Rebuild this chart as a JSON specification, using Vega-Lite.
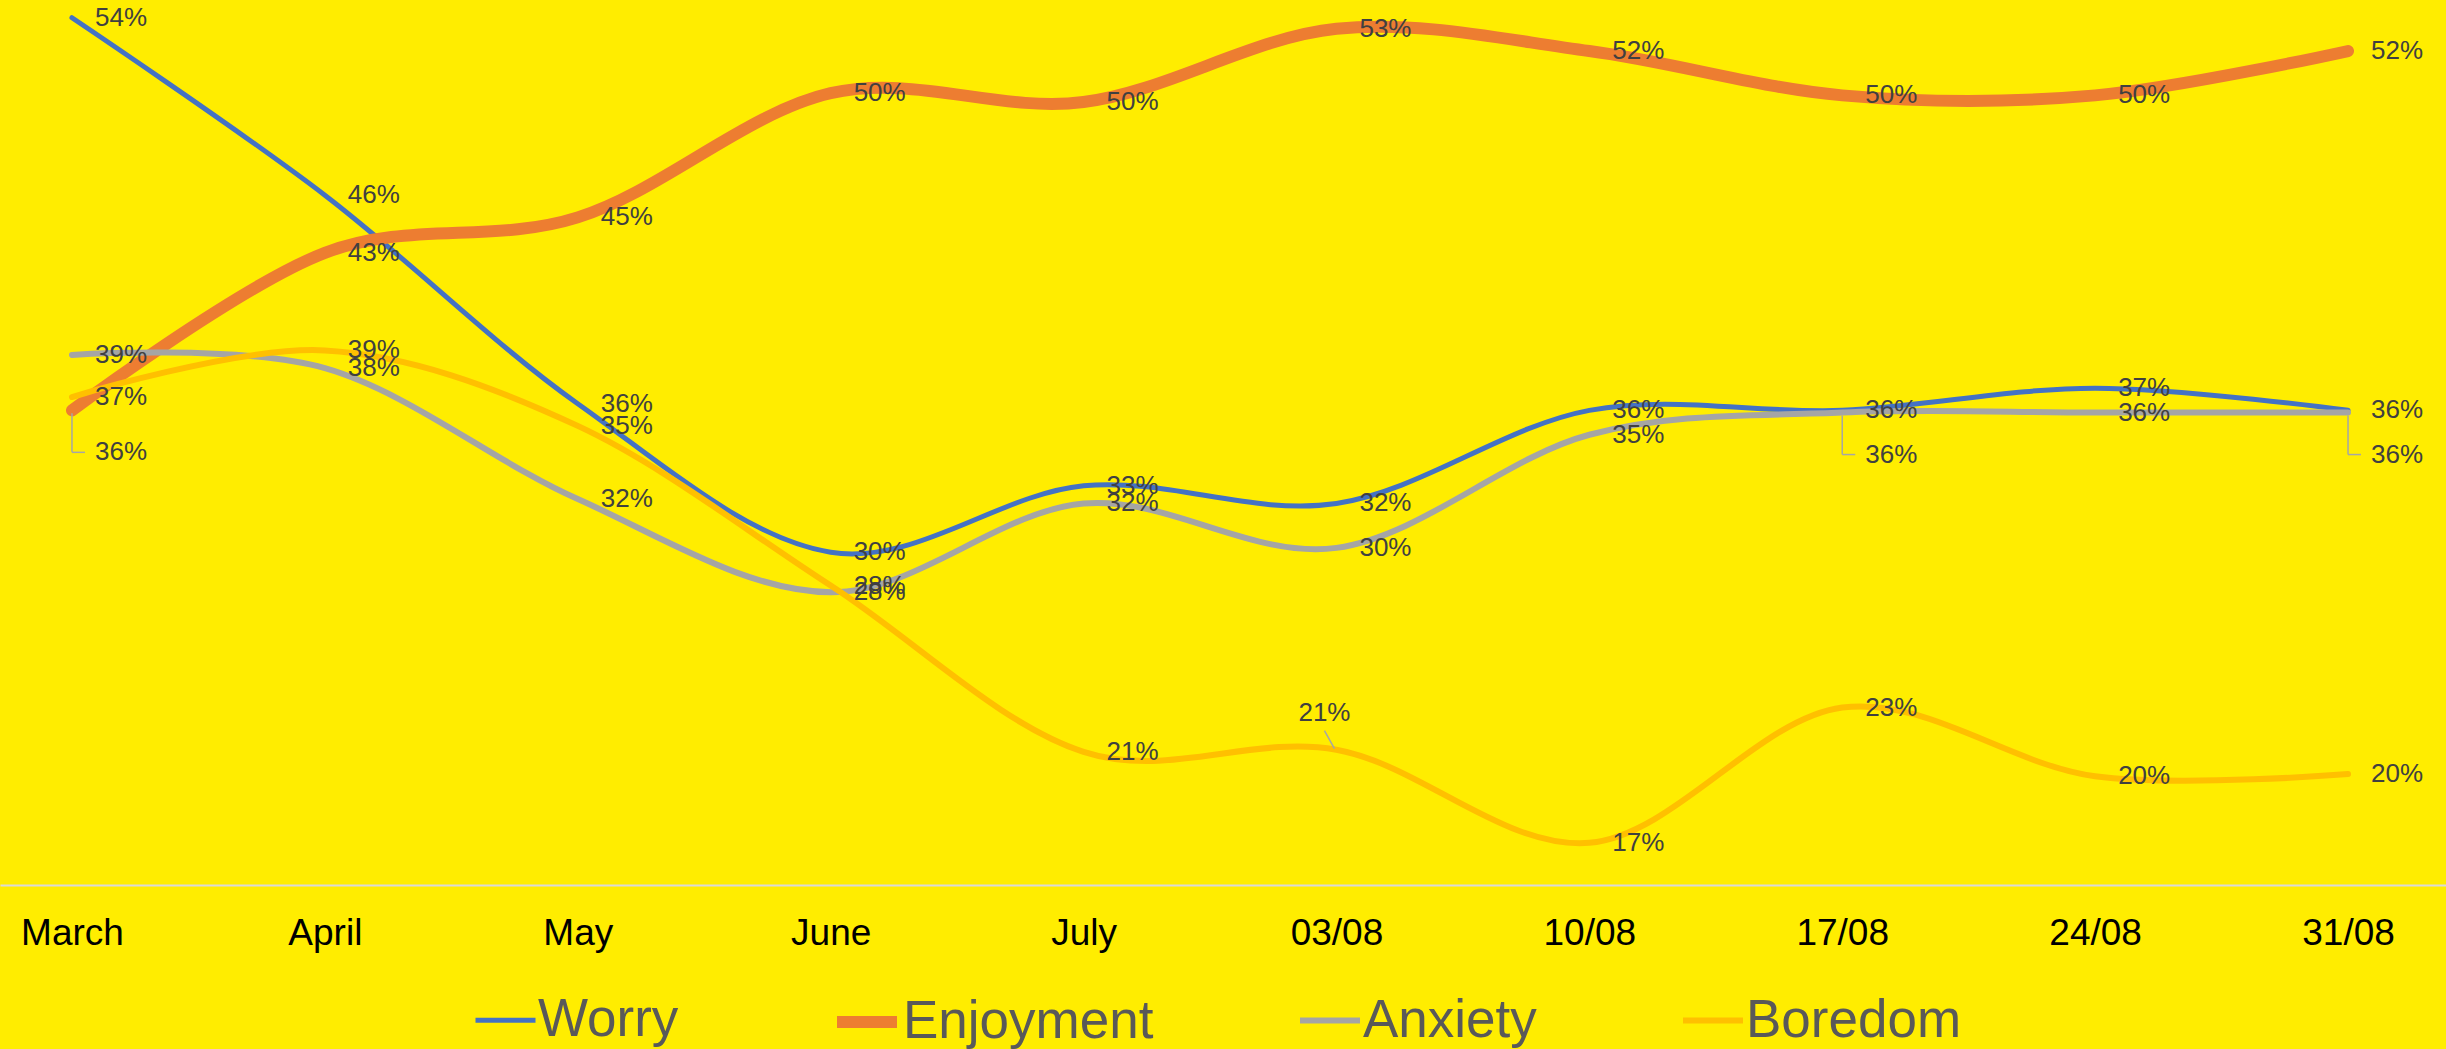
{
  "$schema": "https://vega.github.io/schema/vega-lite/v6.json",
  "width": 2446,
  "height": 885,
  "autosize": {"type": "none"},
  "padding": {"left": 0, "top": 0, "right": 0, "bottom": 164},
  "background": "#FFED00",
  "config": {
    "view": {"stroke": null},
    "font": "Liberation Sans",
    "legend": {
      "orient": "none",
      "legendX": 473,
      "legendY": 986,
      "direction": "horizontal",
      "symbolType": "stroke",
      "symbolSize": 3600,
      "labelFontSize": 53,
      "labelLimit": 500,
      "labelColor": "#595959",
      "labelFont": "Liberation Sans",
      "labelOffset": 0,
      "columnPadding": 134,
      "padding": 0,
      "title": null
    }
  },
  "data": {
    "values": [
      {"series": "Worry", "period": "March", "value": 0.538},
      {"series": "Worry", "period": "April", "value": 0.458},
      {"series": "Worry", "period": "May", "value": 0.364},
      {"series": "Worry", "period": "June", "value": 0.297},
      {"series": "Worry", "period": "July", "value": 0.327},
      {"series": "Worry", "period": "03/08", "value": 0.319},
      {"series": "Worry", "period": "10/08", "value": 0.361},
      {"series": "Worry", "period": "17/08", "value": 0.361},
      {"series": "Worry", "period": "24/08", "value": 0.371},
      {"series": "Worry", "period": "31/08", "value": 0.361},
      {"series": "Enjoyment", "period": "March", "value": 0.361},
      {"series": "Enjoyment", "period": "April", "value": 0.432},
      {"series": "Enjoyment", "period": "May", "value": 0.448},
      {"series": "Enjoyment", "period": "June", "value": 0.504},
      {"series": "Enjoyment", "period": "July", "value": 0.500},
      {"series": "Enjoyment", "period": "03/08", "value": 0.533},
      {"series": "Enjoyment", "period": "10/08", "value": 0.523},
      {"series": "Enjoyment", "period": "17/08", "value": 0.503},
      {"series": "Enjoyment", "period": "24/08", "value": 0.503},
      {"series": "Enjoyment", "period": "31/08", "value": 0.523},
      {"series": "Anxiety", "period": "March", "value": 0.386},
      {"series": "Anxiety", "period": "April", "value": 0.380},
      {"series": "Anxiety", "period": "May", "value": 0.321},
      {"series": "Anxiety", "period": "June", "value": 0.279},
      {"series": "Anxiety", "period": "July", "value": 0.319},
      {"series": "Anxiety", "period": "03/08", "value": 0.299},
      {"series": "Anxiety", "period": "10/08", "value": 0.350},
      {"series": "Anxiety", "period": "17/08", "value": 0.360},
      {"series": "Anxiety", "period": "24/08", "value": 0.360},
      {"series": "Anxiety", "period": "31/08", "value": 0.360},
      {"series": "Boredom", "period": "March", "value": 0.367},
      {"series": "Boredom", "period": "April", "value": 0.388},
      {"series": "Boredom", "period": "May", "value": 0.354},
      {"series": "Boredom", "period": "June", "value": 0.282},
      {"series": "Boredom", "period": "July", "value": 0.207},
      {"series": "Boredom", "period": "03/08", "value": 0.208},
      {"series": "Boredom", "period": "10/08", "value": 0.166},
      {"series": "Boredom", "period": "17/08", "value": 0.227},
      {"series": "Boredom", "period": "24/08", "value": 0.196},
      {"series": "Boredom", "period": "31/08", "value": 0.197}
    ]
  },
  "encoding": {
    "x": {
      "field": "period",
      "type": "ordinal",
      "sort": ["March", "April", "May", "June", "July", "03/08", "10/08", "17/08", "24/08", "31/08"],
      "scale": {"type": "point", "padding": 0.336, "align": 0.4235},
      "axis": {
        "title": null,
        "labelAngle": 0,
        "labelFontSize": 37,
        "labelColor": "#000000",
        "labelFont": "Liberation Sans",
        "labelPadding": 30,
        "ticks": false,
        "grid": false,
        "domainColor": "#D9D9D9",
        "domainWidth": 2
      }
    },
    "y": {
      "field": "value",
      "type": "quantitative",
      "scale": {"domain": [0.147, 0.546], "nice": false, "zero": false},
      "axis": null
    }
  },
  "layer": [
    {
      "mark": {"type": "line", "interpolate": "cardinal", "strokeCap": "round", "strokeJoin": "round"},
      "encoding": {
        "color": {
          "field": "series",
          "type": "nominal",
          "title": null,
          "scale": {"domain": ["Worry", "Enjoyment", "Anxiety", "Boredom"], "range": ["#4472C4", "#ED7D31", "#A5A5A5", "#FFC000"]}
        },
        "strokeWidth": {
          "field": "series",
          "type": "nominal",
          "title": null,
          "scale": {"type": "ordinal", "domain": ["Worry", "Enjoyment", "Anxiety", "Boredom"], "range": [5, 12, 6, 6]}
        }
      }
    },
    {
      "transform": [{"filter": "!((datum.series == 'Enjoyment' && datum.period == 'March') || (datum.series == 'Anxiety' && (datum.period == '17/08' || datum.period == '31/08')) || (datum.series == 'Boredom' && datum.period == '03/08'))"}],
      "mark": {"type": "text", "align": "left", "baseline": "middle", "dx": 23, "fontSize": 26, "color": "#404040", "font": "Liberation Sans"},
      "encoding": {"text": {"field": "value", "type": "quantitative", "format": ".0%"}}
    },
    {
      "transform": [{"filter": "(datum.series == 'Enjoyment' && datum.period == 'March') || (datum.series == 'Anxiety' && (datum.period == '17/08' || datum.period == '31/08'))"}],
      "mark": {"type": "text", "align": "left", "baseline": "middle", "dx": 23, "dy": 42, "fontSize": 26, "color": "#404040", "font": "Liberation Sans"},
      "encoding": {"text": {"field": "value", "type": "quantitative", "format": ".0%"}}
    },
    {
      "transform": [{"filter": "(datum.series == 'Enjoyment' && datum.period == 'March') || (datum.series == 'Anxiety' && (datum.period == '17/08' || datum.period == '31/08'))"}],
      "mark": {"type": "rule", "color": "#A6A6A6", "strokeWidth": 1.5, "yOffset": 3, "y2Offset": 42},
      "encoding": {"x2": {"field": "period"}, "y2": {"field": "value"}}
    },
    {
      "transform": [{"filter": "(datum.series == 'Enjoyment' && datum.period == 'March') || (datum.series == 'Anxiety' && (datum.period == '17/08' || datum.period == '31/08'))"}],
      "mark": {"type": "rule", "color": "#A6A6A6", "strokeWidth": 1.5, "yOffset": 42, "y2Offset": 42, "x2Offset": 13},
      "encoding": {"x2": {"field": "period"}, "y2": {"field": "value"}}
    },
    {
      "transform": [{"filter": "datum.series == 'Boredom' && datum.period == '03/08'"}],
      "mark": {"type": "text", "align": "center", "baseline": "middle", "dx": -12, "dy": -37, "fontSize": 26, "color": "#404040", "font": "Liberation Sans"},
      "encoding": {"text": {"field": "value", "type": "quantitative", "format": ".0%"}}
    },
    {
      "transform": [{"filter": "datum.series == 'Boredom' && datum.period == '03/08'"}],
      "mark": {"type": "rule", "color": "#A6A6A6", "strokeWidth": 1.5, "xOffset": -12, "yOffset": -19, "x2Offset": -2, "y2Offset": -1},
      "encoding": {"x2": {"field": "period"}, "y2": {"field": "value"}}
    }
  ]
}
